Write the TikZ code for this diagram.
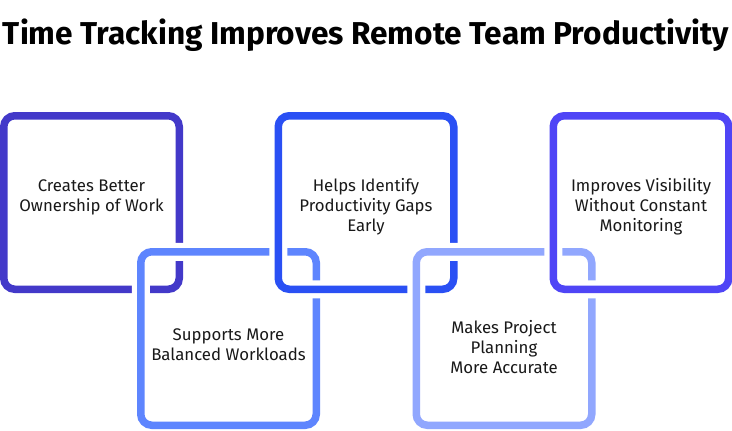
\documentclass[tikz,border=0pt]{standalone}
\usepackage{fontspec}
\setmainfont{Fira Sans}
\definecolor{cA}{HTML}{4339C9}
\definecolor{cB}{HTML}{5E85FE}
\definecolor{cC}{HTML}{2A50F4}
\definecolor{cD}{HTML}{91A7FE}
\definecolor{cE}{HTML}{4F45F6}
\tikzset{
  linkbox/.style={draw=#1, line width=7.5pt, rounded corners=11pt,
    minimum width=175.5pt, minimum height=173.5pt, inner sep=0pt,
    preaction={draw=white, line width=18pt}},
  boxtext/.style={align=center, font=\fontsize{16.8pt}{20pt}\selectfont, text=black!90, inner sep=0pt},
}
\begin{document}
\begin{tikzpicture}[x=1pt,y=-1pt]
\useasboundingbox[fill=white] (0,0) rectangle (732,431);
\node[font=\bfseries\fontsize{30pt}{34pt}\selectfont, anchor=base, inner sep=0pt] (title) at (366,45)
  {\resizebox{726pt}{!}{Time Tracking Improves Remote Team Productivity}};
\node[linkbox=cA] (b1) at (91.5,202.5) {};
\node[linkbox=cB] (b2) at (228.5,338.5) {};
\node[linkbox=cC] (b3) at (366,202.5) {};
\node[linkbox=cD] (b4) at (504,338.5) {};
\node[linkbox=cE] (b5) at (641,202.5) {};
\node[boxtext] (t1) at (91.5,197) {Creates Better\\Ownership of Work};
\node[boxtext] (t2) at (228.5,345) {Supports More\\Balanced Workloads};
\node[boxtext] (t3) at (366,207) {Helps Identify\\Productivity Gaps\\Early};
\node[boxtext] (t4) at (504,347) {Makes Project\\Planning\\More Accurate};
\node[boxtext] (t5) at (641,207) {Improves Visibility\\Without Constant\\Monitoring};
\end{tikzpicture}
\end{document}
